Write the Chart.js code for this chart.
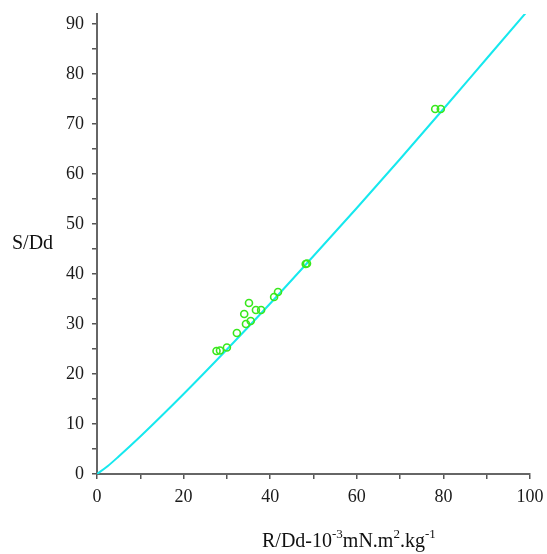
<!DOCTYPE html>
<html>
<head>
<meta charset="utf-8">
<script src="https://cdn.jsdelivr.net/npm/chart.js@4"></script>
<style>
  body { margin: 0; background: #fff; }
  #wrap { width: 547px; height: 554px; }
</style>
</head>
<body>
<div id="wrap"><canvas id="fitChart" width="547" height="554"></canvas></div>
<script>
// fitted curve
const curveX = [0, 2.5, 5, 10, 20, 30, 40, 50, 60, 70, 80, 90, 100];
const curveY = [0, 1.6, 3.5, 7.5, 16.0, 24.9, 34.1, 43.6, 53.2, 63.0, 73.0, 83.1, 93.2];

// measured points
const pointsX = [27.6, 28.4, 30.0, 32.3, 34.0, 35.1, 34.4, 35.5, 36.7, 37.9, 40.9, 41.8, 48.2, 48.5, 78.1, 79.4];
const pointsY = [24.6, 24.7, 25.3, 28.2, 32.0, 34.2, 30.0, 30.6, 32.8, 32.8, 35.4, 36.4, 42.0, 42.1, 73.0, 73.0];

const xTicks = [0, 20, 40, 60, 80, 100];
const yTicks = [0, 10, 20, 30, 40, 50, 60, 70, 80, 90];

const yTitle = 'S/Dd';
// title pieces: [text, superscript?]
const xTitle = [['R/Dd-10', false], ['-3', true], ['mN.m', false], ['2', true], ['.kg', false], ['-1', true]];

const serif = '"Liberation Serif", "DejaVu Serif", serif';

const titles = {
    id: 'titles',
    afterDraw(chart) {
        const ctx = chart.ctx;
        ctx.save();
        ctx.fillStyle = '#111';
        ctx.textBaseline = 'alphabetic';
        ctx.font = '20px ' + serif;
        ctx.textAlign = 'left';
        ctx.fillText(yTitle, 12, 249);

        // x title with superscripts
        let x = 262;
        const base = 547;
        xTitle.forEach(([txt, sup]) => {
            ctx.font = (sup ? '13px ' : '20px ') + serif;
            ctx.fillText(txt, x, sup ? base - 9 : base);
            x += ctx.measureText(txt).width;
        });
        ctx.restore();
    }
};

const pointData = pointsX.map((x, i) => ({ x: x, y: pointsY[i] }));
const curveData = curveX.map((x, i) => ({ x: x, y: curveY[i] }));

new Chart(document.getElementById('fitChart'), {
    type: 'scatter',
    data: {
        datasets: [{
            label: 'points',
            data: pointData,
            order: 0,
            pointStyle: 'circle',
            pointRadius: 3.5,
            borderWidth: 1.6,
            borderColor: '#38e81c',
            backgroundColor: 'rgba(0,0,0,0)'
        }, {
            label: 'fit',
            data: curveData,
            order: 1,
            showLine: true,
            cubicInterpolationMode: 'monotone',
            pointRadius: 0,
            borderWidth: 2,
            borderColor: '#16e8ee'
        }]
    },
    options: {
        responsive: false,
        animation: false,
        layout: { padding: { top: 14, right: 17, left: 0, bottom: 0 } },
        plugins: { legend: { display: false }, tooltip: { enabled: false } },
        scales: {
            x: {
                type: 'linear',
                min: 0,
                max: 100,
                afterFit: s => { s.height = 80; s.paddingLeft = 0; s.paddingRight = 0; },
                afterBuildTicks: s => { s.ticks = [0, 10, 20, 30, 40, 50, 60, 70, 80, 90, 100].map(v => ({ value: v })); },
                border: { color: '#666', width: 2 },
                grid: { drawOnChartArea: false, drawTicks: true, tickLength: 5, color: '#555', lineWidth: 1.5 },
                ticks: {
                    color: '#1a1a1a',
                    font: { family: serif, size: 18 },
                    padding: 7,
                    maxRotation: 0,
                    autoSkip: false,
                    callback: v => xTicks.includes(v) ? String(v) : ''
                }
            },
            y: {
                type: 'linear',
                min: 0,
                max: 92,
                afterFit: s => { s.width = 97; s.paddingTop = 0; s.paddingBottom = 0; },
                afterBuildTicks: s => {
                    const t = [];
                    for (let v = 0; v <= 90; v += 5) t.push({ value: v });
                    s.ticks = t;
                },
                border: { color: '#666', width: 2 },
                grid: { drawOnChartArea: false, drawTicks: true, tickLength: 5, color: '#555', lineWidth: 1.5 },
                ticks: {
                    color: '#1a1a1a',
                    font: { family: serif, size: 18 },
                    padding: 8,
                    autoSkip: false,
                    callback: v => yTicks.includes(v) ? String(v) : ''
                }
            }
        }
    },
    plugins: [titles]
});
</script>
</body>
</html>
